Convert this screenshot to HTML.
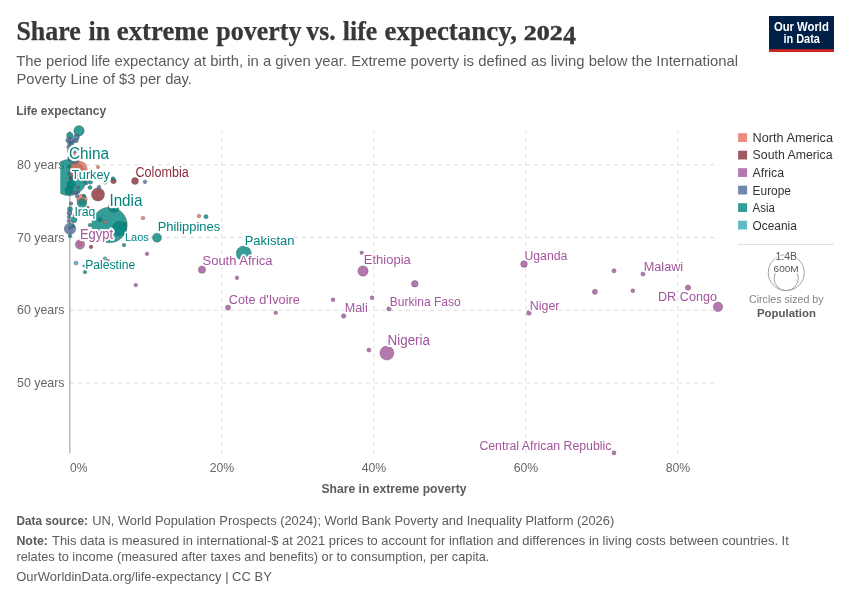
<!DOCTYPE html>
<html lang="en"><head><meta charset="utf-8"><title>Share in extreme poverty vs. life expectancy, 2024</title>
<style>html,body{margin:0;padding:0;background:#fff}svg{display:block;will-change:transform}text{font-family:"Liberation Sans",Arial,sans-serif}.ttl{font-family:"Liberation Serif","Times New Roman",serif;font-weight:bold}</style></head><body>
<svg width="850" height="600" viewBox="0 0 850 600">
<rect width="850" height="600" fill="#fff"/>
<text class="ttl" y="40" font-size="28" fill="#383838" stroke="#383838" stroke-width="0.25"><tspan x="16.4" textLength="64.4" lengthAdjust="spacingAndGlyphs">Share</tspan> <tspan x="88.6" textLength="21.6" lengthAdjust="spacingAndGlyphs">in</tspan> <tspan x="116.8" textLength="91.8" lengthAdjust="spacingAndGlyphs">extreme</tspan> <tspan x="216.3" textLength="85.1" lengthAdjust="spacingAndGlyphs">poverty</tspan> <tspan x="306.3" textLength="29.3" lengthAdjust="spacingAndGlyphs">vs.</tspan> <tspan x="342.8" textLength="34.4" lengthAdjust="spacingAndGlyphs">life</tspan> <tspan x="384.5" textLength="132.5" lengthAdjust="spacingAndGlyphs">expectancy,</tspan> <tspan x="523.8" y="40.1" font-size="20" stroke-width="0.5" textLength="38.8" lengthAdjust="spacingAndGlyphs">202</tspan><tspan x="563.1" y="44" font-size="25.5" stroke-width="0.3" textLength="13" lengthAdjust="spacingAndGlyphs">4</tspan></text>
<text x="16.3" y="66.3" font-size="15" fill="#5b5b5b" textLength="721.7" lengthAdjust="spacingAndGlyphs">The period life expectancy at birth, in a given year. Extreme poverty is defined as living below the International</text>
<text x="16.4" y="84.3" font-size="15" fill="#5b5b5b" textLength="175.6" lengthAdjust="spacingAndGlyphs">Poverty Line of $3 per day.</text>
<rect x="769" y="16" width="65" height="36" fill="#002147"/><rect x="769" y="49.2" width="65" height="2.8" fill="#ce261e"/>
<text x="801.4" y="30.5" font-size="12" font-weight="bold" fill="#fff" text-anchor="middle" textLength="55" lengthAdjust="spacingAndGlyphs">Our World</text>
<text x="801.7" y="42.6" font-size="12" font-weight="bold" fill="#fff" text-anchor="middle" textLength="36.5" lengthAdjust="spacingAndGlyphs">in Data</text>
<text x="16.2" y="115" font-size="13" font-weight="bold" fill="#5b5b5b" textLength="90" lengthAdjust="spacingAndGlyphs">Life expectancy</text>
<g stroke="#ddd" stroke-width="1" stroke-dasharray="4,4" fill="none">
<path d="M70,164.8H718.5"/>
<path d="M70,237.5H718.5"/>
<path d="M70,310.3H718.5"/>
<path d="M70,383.0H718.5"/>
<path d="M221.9,453.5V131"/>
<path d="M373.9,453.5V131"/>
<path d="M525.9,453.5V131"/>
<path d="M677.9,453.5V131"/>
</g>
<path d="M69.85,131V453.2" stroke="#a0a0a0" stroke-width="1.1" fill="none"/>
<text x="64.5" y="169" font-size="13" fill="#666" text-anchor="end" textLength="47.5" lengthAdjust="spacingAndGlyphs">80 years</text>
<text x="64.5" y="242" font-size="13" fill="#666" text-anchor="end" textLength="47.5" lengthAdjust="spacingAndGlyphs">70 years</text>
<text x="64.5" y="314" font-size="13" fill="#666" text-anchor="end" textLength="47.5" lengthAdjust="spacingAndGlyphs">60 years</text>
<text x="64.5" y="387" font-size="13" fill="#666" text-anchor="end" textLength="47.5" lengthAdjust="spacingAndGlyphs">50 years</text>
<text x="70" y="472" font-size="13" fill="#666" textLength="17.5" lengthAdjust="spacingAndGlyphs">0%</text>
<text x="222" y="472" font-size="13" fill="#666" text-anchor="middle" textLength="24.5" lengthAdjust="spacingAndGlyphs">20%</text>
<text x="374" y="472" font-size="13" fill="#666" text-anchor="middle" textLength="24.5" lengthAdjust="spacingAndGlyphs">40%</text>
<text x="526" y="472" font-size="13" fill="#666" text-anchor="middle" textLength="24.5" lengthAdjust="spacingAndGlyphs">60%</text>
<text x="678" y="472" font-size="13" fill="#666" text-anchor="middle" textLength="24.5" lengthAdjust="spacingAndGlyphs">80%</text>
<text x="394" y="492.6" font-size="13" font-weight="bold" fill="#5b5b5b" text-anchor="middle" textLength="145" lengthAdjust="spacingAndGlyphs">Share in extreme poverty</text>
<defs><clipPath id="cp"><rect x="60.3" y="117" width="670" height="346"/></clipPath></defs>
<g clip-path="url(#cp)" fill-opacity="0.8" stroke="#4a4a4a" stroke-opacity="0.55" stroke-width="0.6">
<circle cx="68.9" cy="177.6" r="18.05" fill="#00847E"/>
<circle cx="109.5" cy="225" r="17.75" fill="#00847E"/>
<circle cx="78.5" cy="169.5" r="8.75" fill="#E56E5A"/>
<circle cx="243.8" cy="253.5" r="7.55" fill="#00847E"/>
<circle cx="119.5" cy="228.5" r="7.25" fill="#00847E"/>
<circle cx="386.9" cy="353" r="7.05" fill="#A2559C"/>
<circle cx="98" cy="194.5" r="6.55" fill="#883039"/>
<circle cx="70" cy="228.75" r="5.75" fill="#4C6A9C"/>
<circle cx="113.8" cy="207" r="5.45" fill="#00847E"/>
<circle cx="79" cy="130.75" r="5.25" fill="#00847E"/>
<circle cx="82" cy="199.5" r="5.25" fill="#E56E5A"/>
<circle cx="363" cy="271" r="5.15" fill="#A2559C"/>
<circle cx="80" cy="244.5" r="4.75" fill="#A2559C"/>
<circle cx="718" cy="306.85" r="4.75" fill="#A2559C"/>
<circle cx="82" cy="203.25" r="4.75" fill="#00847E"/>
<circle cx="157" cy="237.7" r="4.55" fill="#00847E"/>
<circle cx="71" cy="184.5" r="4.25" fill="#00847E"/>
<circle cx="74.75" cy="159.6" r="4.05" fill="#4C6A9C"/>
<circle cx="69" cy="190.5" r="3.95" fill="#00847E"/>
<circle cx="202" cy="269.7" r="3.65" fill="#A2559C"/>
<circle cx="135" cy="181" r="3.45" fill="#883039"/>
<circle cx="414.8" cy="283.75" r="3.35" fill="#A2559C"/>
<circle cx="524" cy="264" r="3.35" fill="#A2559C"/>
<circle cx="69.75" cy="135.5" r="3.25" fill="#00847E"/>
<circle cx="74" cy="219.75" r="3.05" fill="#00847E"/>
<circle cx="71" cy="140.5" r="2.95" fill="#4C6A9C"/>
<circle cx="76.5" cy="137" r="2.95" fill="#4C6A9C"/>
<circle cx="113.5" cy="181" r="2.75" fill="#883039"/>
<circle cx="70.1" cy="151.2" r="2.65" fill="#4C6A9C"/>
<circle cx="688" cy="287.65" r="2.65" fill="#A2559C"/>
<circle cx="70.2" cy="158.3" r="2.55" fill="#00847E"/>
<circle cx="70" cy="209" r="2.55" fill="#00847E"/>
<circle cx="69.5" cy="213" r="2.55" fill="#4C6A9C"/>
<circle cx="228" cy="307.6" r="2.55" fill="#A2559C"/>
<circle cx="594.9" cy="291.85" r="2.55" fill="#A2559C"/>
<circle cx="68" cy="140.25" r="2.35" fill="#4C6A9C"/>
<circle cx="86.3" cy="182.5" r="2.35" fill="#00847E"/>
<circle cx="528.9" cy="313" r="2.35" fill="#A2559C"/>
<circle cx="70" cy="150" r="2.25" fill="#4C6A9C"/>
<circle cx="71.5" cy="154" r="2.25" fill="#4C6A9C"/>
<circle cx="105" cy="182" r="2.25" fill="#883039"/>
<circle cx="100" cy="219.5" r="2.25" fill="#00847E"/>
<circle cx="343.7" cy="316" r="2.25" fill="#A2559C"/>
<circle cx="389" cy="308.8" r="2.25" fill="#A2559C"/>
<circle cx="76" cy="137.75" r="2.15" fill="#38AABA"/>
<circle cx="75.3" cy="150.8" r="2.15" fill="#4C6A9C"/>
<circle cx="90.5" cy="182" r="2.15" fill="#00847E"/>
<circle cx="206" cy="216.7" r="2.15" fill="#00847E"/>
<circle cx="614" cy="270.85" r="2.15" fill="#A2559C"/>
<circle cx="643" cy="274" r="2.15" fill="#A2559C"/>
<circle cx="68.75" cy="147" r="2.05" fill="#4C6A9C"/>
<circle cx="69.5" cy="143.5" r="2.05" fill="#4C6A9C"/>
<circle cx="76.25" cy="140.75" r="2.05" fill="#4C6A9C"/>
<circle cx="90" cy="187.5" r="2.05" fill="#00847E"/>
<circle cx="76" cy="263" r="2.05" fill="#38AABA"/>
<circle cx="368.9" cy="350" r="2.05" fill="#A2559C"/>
<circle cx="614" cy="452.9" r="2.05" fill="#A2559C"/>
<circle cx="333" cy="299.7" r="1.95" fill="#A2559C"/>
<circle cx="372" cy="297.7" r="1.95" fill="#A2559C"/>
<circle cx="632.8" cy="290.8" r="1.95" fill="#A2559C"/>
<circle cx="73.5" cy="141.5" r="1.85" fill="#4C6A9C"/>
<circle cx="71.75" cy="144" r="1.85" fill="#00847E"/>
<circle cx="69" cy="166.5" r="1.85" fill="#00847E"/>
<circle cx="69.2" cy="173.5" r="1.85" fill="#4C6A9C"/>
<circle cx="113" cy="178.5" r="1.85" fill="#00847E"/>
<circle cx="99" cy="187" r="1.85" fill="#4C6A9C"/>
<circle cx="73" cy="192" r="1.85" fill="#4C6A9C"/>
<circle cx="77" cy="196" r="1.85" fill="#4C6A9C"/>
<circle cx="84" cy="196" r="1.85" fill="#00847E"/>
<circle cx="71" cy="203.5" r="1.85" fill="#4C6A9C"/>
<circle cx="69" cy="217" r="1.85" fill="#00847E"/>
<circle cx="68.75" cy="221" r="1.85" fill="#4C6A9C"/>
<circle cx="90" cy="225" r="1.85" fill="#00847E"/>
<circle cx="70" cy="236" r="1.85" fill="#00847E"/>
<circle cx="91" cy="246.8" r="1.85" fill="#883039"/>
<circle cx="124" cy="245" r="1.85" fill="#00847E"/>
<circle cx="105" cy="258.5" r="1.85" fill="#38AABA"/>
<circle cx="85" cy="272" r="1.85" fill="#00847E"/>
<circle cx="145" cy="181.8" r="1.85" fill="#4C6A9C"/>
<circle cx="143" cy="218" r="1.85" fill="#E56E5A"/>
<circle cx="199" cy="216" r="1.85" fill="#E56E5A"/>
<circle cx="147" cy="253.8" r="1.85" fill="#A2559C"/>
<circle cx="135.8" cy="285" r="1.85" fill="#A2559C"/>
<circle cx="237" cy="277.8" r="1.85" fill="#A2559C"/>
<circle cx="275.75" cy="312.75" r="1.85" fill="#A2559C"/>
<circle cx="361.7" cy="252.7" r="1.75" fill="#A2559C"/>
<circle cx="70.5" cy="178" r="1.65" fill="#883039"/>
<circle cx="98" cy="167" r="1.65" fill="#E56E5A"/>
<circle cx="78" cy="192.3" r="1.65" fill="#4C6A9C"/>
<circle cx="78" cy="187.5" r="1.65" fill="#4C6A9C"/>
<circle cx="76" cy="193" r="1.65" fill="#4C6A9C"/>
<circle cx="105" cy="222" r="1.65" fill="#E56E5A"/>
<circle cx="125" cy="224" r="1.65" fill="#00847E"/>
<circle cx="73" cy="226" r="1.65" fill="#00847E"/>
<circle cx="80" cy="244" r="1.65" fill="#E56E5A"/>
<circle cx="74" cy="153.75" r="1.45" fill="#E56E5A"/>
<circle cx="73" cy="222" r="1.35" fill="#38AABA"/>
<circle cx="74.5" cy="215.5" r="1.35" fill="#A2559C"/>
<circle cx="88" cy="207.5" r="1.35" fill="#883039"/>
<circle cx="70" cy="228" r="1.35" fill="#4C6A9C"/>
<circle cx="108" cy="260.5" r="1.35" fill="#A2559C"/>
<circle cx="84" cy="266" r="1.35" fill="#38AABA"/>
</g>
<g stroke="#fff" stroke-linejoin="round" paint-order="stroke fill">
<text x="69" y="159" font-size="16" stroke-width="4.3" fill="#00847E" textLength="40" lengthAdjust="spacingAndGlyphs">China</text>
<text x="109.4" y="206" font-size="17" stroke-width="4.6" fill="#00847E" textLength="33.1" lengthAdjust="spacingAndGlyphs">India</text>
<text x="71.6" y="179" font-size="13.5" stroke-width="3.6" fill="#00847E" textLength="38.2" lengthAdjust="spacingAndGlyphs">Turkey</text>
<text x="135.5" y="177" font-size="14" stroke-width="3.8" fill="#883039" textLength="53.2" lengthAdjust="spacingAndGlyphs">Colombia</text>
<text x="74.4" y="216" font-size="13" stroke-width="3.5" fill="#00847E" textLength="21" lengthAdjust="spacingAndGlyphs">Iraq</text>
<text x="80" y="239" font-size="14" stroke-width="3.8" fill="#A2559C" textLength="33" lengthAdjust="spacingAndGlyphs">Egypt</text>
<text x="124.9" y="241" font-size="11.5" stroke-width="3.1" fill="#00847E" textLength="24" lengthAdjust="spacingAndGlyphs">Laos</text>
<text x="157.7" y="231" font-size="13" stroke-width="3.5" fill="#00847E" textLength="62.5" lengthAdjust="spacingAndGlyphs">Philippines</text>
<text x="85.2" y="269" font-size="12" stroke-width="3.2" fill="#00847E" textLength="50" lengthAdjust="spacingAndGlyphs">Palestine</text>
<text x="244.7" y="245" font-size="13" stroke-width="3.5" fill="#00847E" textLength="49.8" lengthAdjust="spacingAndGlyphs">Pakistan</text>
<text x="202.5" y="265" font-size="12.5" stroke-width="3.4" fill="#A2559C" textLength="70" lengthAdjust="spacingAndGlyphs">South Africa</text>
<text x="228.8" y="304" font-size="12" stroke-width="3.2" fill="#A2559C" textLength="71" lengthAdjust="spacingAndGlyphs">Cote d'Ivoire</text>
<text x="363.8" y="264" font-size="12.5" stroke-width="3.4" fill="#A2559C" textLength="47" lengthAdjust="spacingAndGlyphs">Ethiopia</text>
<text x="344.7" y="312" font-size="12" stroke-width="3.2" fill="#A2559C" textLength="23" lengthAdjust="spacingAndGlyphs">Mali</text>
<text x="389.8" y="306" font-size="12" stroke-width="3.2" fill="#A2559C" textLength="71" lengthAdjust="spacingAndGlyphs">Burkina Faso</text>
<text x="387.5" y="345" font-size="14" stroke-width="3.8" fill="#A2559C" textLength="42.5" lengthAdjust="spacingAndGlyphs">Nigeria</text>
<text x="524.5" y="260" font-size="12.5" stroke-width="3.4" fill="#A2559C" textLength="42.8" lengthAdjust="spacingAndGlyphs">Uganda</text>
<text x="529.8" y="309.6" font-size="12" stroke-width="3.2" fill="#A2559C" textLength="29.7" lengthAdjust="spacingAndGlyphs">Niger</text>
<text x="643.7" y="270.6" font-size="12" stroke-width="3.2" fill="#A2559C" textLength="39.5" lengthAdjust="spacingAndGlyphs">Malawi</text>
<text x="658" y="301" font-size="13" stroke-width="3.5" fill="#A2559C" textLength="59" lengthAdjust="spacingAndGlyphs">DR Congo</text>
<text x="479.4" y="450" font-size="12" stroke-width="3.2" fill="#A2559C" textLength="132" lengthAdjust="spacingAndGlyphs">Central African Republic</text>
</g>
<rect x="738.1" y="133.20" width="9" height="8.8" fill="#E56E5A" fill-opacity="0.8"/>
<text x="752.6" y="142" font-size="12" fill="#333" textLength="80.4" lengthAdjust="spacingAndGlyphs">North America</text>
<rect x="738.1" y="150.70" width="9" height="8.8" fill="#883039" fill-opacity="0.8"/>
<text x="752.6" y="159" font-size="12" fill="#333" textLength="80" lengthAdjust="spacingAndGlyphs">South America</text>
<rect x="738.1" y="168.20" width="9" height="8.8" fill="#A2559C" fill-opacity="0.8"/>
<text x="752.6" y="177" font-size="12" fill="#333" textLength="31.5" lengthAdjust="spacingAndGlyphs">Africa</text>
<rect x="738.1" y="185.70" width="9" height="8.8" fill="#4C6A9C" fill-opacity="0.8"/>
<text x="752.6" y="195" font-size="12" fill="#333" textLength="38.4" lengthAdjust="spacingAndGlyphs">Europe</text>
<rect x="738.1" y="203.20" width="9" height="8.8" fill="#00847E" fill-opacity="0.8"/>
<text x="752.6" y="212" font-size="12" fill="#333" textLength="22.2" lengthAdjust="spacingAndGlyphs">Asia</text>
<rect x="738.1" y="220.70" width="9" height="8.8" fill="#38AABA" fill-opacity="0.8"/>
<text x="752.6" y="230" font-size="12" fill="#333" textLength="44.2" lengthAdjust="spacingAndGlyphs">Oceania</text>
<path d="M738,244.5H834" stroke="#e2e2e2" stroke-width="1"/>
<circle cx="786.25" cy="272.6" r="18" fill="none" stroke="#9a9a9a" stroke-width="0.9"/>
<circle cx="786.2" cy="278.5" r="12.1" fill="none" stroke="#9a9a9a" stroke-width="0.9"/>
<g stroke="#fff" stroke-width="2.5" stroke-linejoin="round" paint-order="stroke fill" text-anchor="middle" fill="#555">
<text x="786.3" y="260" font-size="10" textLength="21.6" lengthAdjust="spacingAndGlyphs">1.4B</text>
<text x="786.1" y="271.6" font-size="9" textLength="25" lengthAdjust="spacingAndGlyphs">600M</text>
</g>
<text x="786.3" y="303" font-size="11.5" fill="#858585" text-anchor="middle" textLength="74.6" lengthAdjust="spacingAndGlyphs">Circles sized by</text>
<text x="786.5" y="317" font-size="11.5" font-weight="bold" fill="#5b5b5b" text-anchor="middle" textLength="59" lengthAdjust="spacingAndGlyphs">Population</text>
<g font-size="13" fill="#5b5b5b">
<text y="525"><tspan x="16.4" font-weight="bold" textLength="71.6" lengthAdjust="spacingAndGlyphs">Data source:</tspan> <tspan x="92.2" textLength="522" lengthAdjust="spacingAndGlyphs">UN, World Population Prospects (2024); World Bank Poverty and Inequality Platform (2026)</tspan></text>
<text y="545"><tspan x="16.4" font-weight="bold" textLength="31.6" lengthAdjust="spacingAndGlyphs">Note:</tspan> <tspan x="52" textLength="736.8" lengthAdjust="spacingAndGlyphs">This data is measured in international-$ at 2021 prices to account for inflation and differences in living costs between countries. It</tspan></text>
<text x="16.4" y="561" textLength="473" lengthAdjust="spacingAndGlyphs">relates to income (measured after taxes and benefits) or to consumption, per capita.</text>
<text x="16.2" y="581" textLength="255.6" lengthAdjust="spacingAndGlyphs">OurWorldinData.org/life-expectancy | CC BY</text>
</g>
</svg></body></html>
